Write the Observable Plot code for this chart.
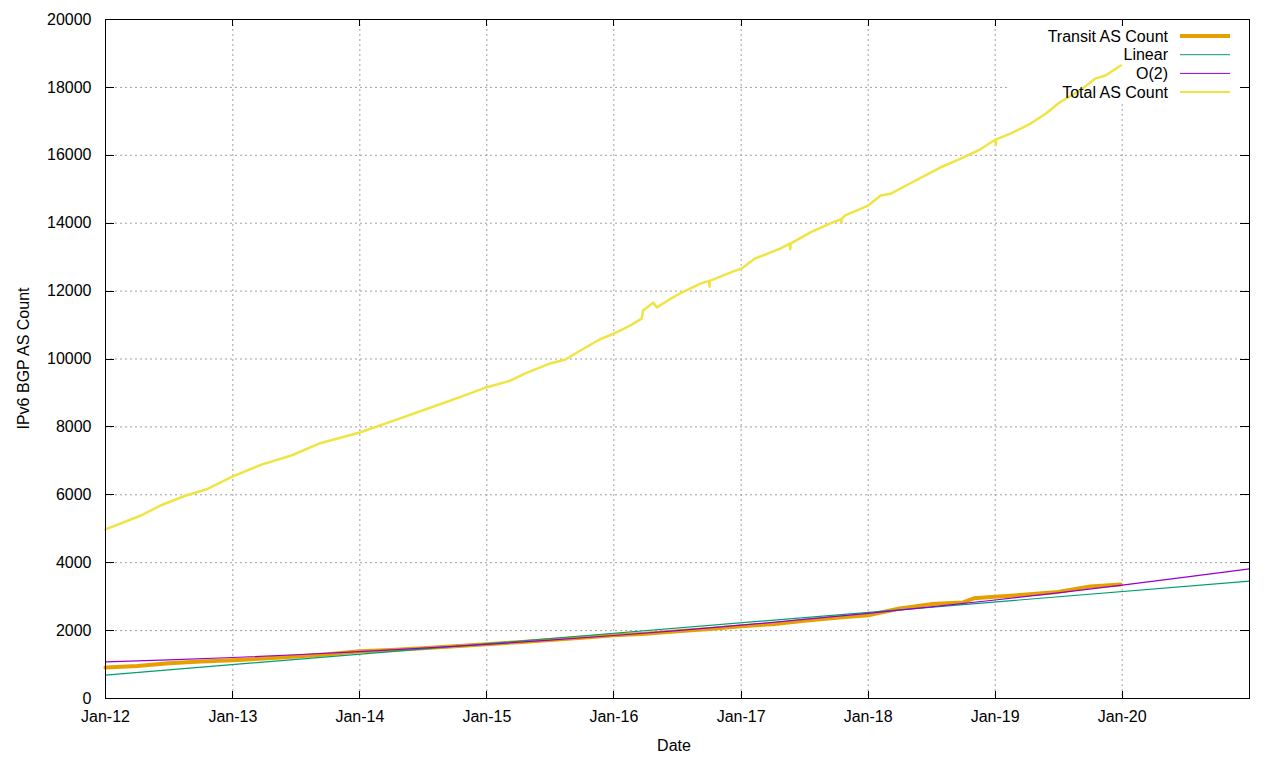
<!DOCTYPE html>
<html><head><meta charset="utf-8">
<script src="https://cdn.jsdelivr.net/npm/d3@7"></script>
<script src="https://cdn.jsdelivr.net/npm/@observablehq/plot@0.6"></script>
<style>
html,body{margin:0;padding:0;background:#fff;}
#chart svg{display:block;}
</style></head><body><div id="chart"></div>
<script>
// ---- data ----
const totalDates = ["2012-01-01","2012-04-12","2012-06-07","2012-08-19","2012-10-16","2013-01-01","2013-03-24","2013-06-18","2013-09-09","2014-01-01","2014-04-27","2014-07-24","2014-10-16","2015-01-01","2015-03-11","2015-04-20","2015-07-02","2015-08-15","2015-09-27","2015-11-21","2016-01-01","2016-02-18","2016-03-21","2016-03-25","2016-04-23","2016-05-04","2016-06-13","2016-07-09","2016-09-06","2016-10-01","2016-10-02","2016-10-03","2016-12-02","2017-01-01","2017-02-10","2017-04-23","2017-05-21","2017-05-22","2017-05-23","2017-07-19","2017-09-13","2017-10-15","2017-10-16","2017-10-17","2017-10-27","2018-01-01","2018-02-06","2018-03-07","2018-05-01","2018-07-27","2018-09-24","2018-11-18","2019-01-01","2019-01-03","2019-01-04","2019-02-14","2019-04-13","2019-05-27","2019-07-05","2019-09-02","2019-10-16","2019-11-14","2019-12-28"];
const totalValues = [4980,5390,5685,5980,6156,6540,6890,7158,7520,7835,8250,8570,8875,9170,9367,9570,9870,9985,10250,10575,10750,10990,11190,11430,11660,11520,11780,11930,12220,12300,12130,12300,12550,12660,12960,13250,13400,13230,13400,13730,13990,14120,14020,14120,14230,14520,14815,14870,15170,15640,15900,16170,16460,16300,16470,16640,16935,17230,17555,17910,18260,18350,18645];

const transitDates = ["2012-01-01","2012-04-01","2012-07-01","2012-10-01","2013-01-01","2013-04-01","2013-07-01","2013-10-01","2014-01-01","2014-04-01","2014-07-01","2014-10-01","2015-01-01","2015-04-01","2015-07-01","2015-10-01","2016-01-01","2016-04-01","2016-07-01","2016-10-01","2017-01-01","2017-04-01","2017-07-01","2017-10-01","2018-01-01","2018-04-01","2018-07-01","2018-10-01","2018-11-01","2019-01-01","2019-04-01","2019-07-01","2019-10-01","2019-12-28"];
const transitValues = [910,960,1040,1090,1130,1180,1240,1300,1390,1430,1480,1540,1600,1660,1720,1790,1860,1910,1980,2050,2130,2190,2290,2380,2450,2650,2780,2830,2950,3000,3060,3140,3300,3360];

const linearDates = ["2012-01-01","2021-01-01"];
const linearValues = [690,3460];

const quadDates = ["2012-01-01","2012-07-01","2013-01-01","2013-07-01","2014-01-01","2014-07-01","2015-01-01","2015-07-01","2016-01-01","2016-07-01","2017-01-01","2017-07-01","2018-01-01","2018-07-01","2019-01-01","2019-07-01","2020-01-01","2020-07-01","2021-01-01"];
const quadValues = [1080,1138,1207,1288,1379,1481,1595,1719,1855,2002,2160,2328,2508,2699,2901,3114,3339,3574,3820];

const xTickLabels = ["2012-01-01","2013-01-01","2014-01-01","2015-01-01","2016-01-01","2017-01-01","2018-01-01","2019-01-01","2020-01-01"];
const yTickValues = [0,2000,4000,6000,8000,10000,12000,14000,16000,18000,20000];

const seriesNames = ["Transit AS Count","Linear","O(2)","Total AS Count"];
const seriesColors = ["#e69f00","#009e73","#9400d3","#f0e442"];
const seriesWidths = [4,1.2,1.2,2.5];
const legendWidths = [4,1,1,2];

// ---- build ----
const toRows = (ds, vs) => ds.map((d,i) => ({date: new Date(d), value: vs[i]}));
const transit = toRows(transitDates, transitValues);
const linear = toRows(linearDates, linearValues);
const quad = toRows(quadDates, quadValues);
const total = toRows(totalDates, totalValues);
const xTicks = xTickLabels.map(d => new Date(d));
const FONT = "'Liberation Sans', Arial, sans-serif";

function box(dims){
  return {L: dims.marginLeft, R: dims.width - dims.marginRight, T: dims.marginTop, B: dims.height - dims.marginBottom};
}

function legendBackground(index, scales, values, dims){
  const {R, T} = box(dims);
  const g = d3.create("svg:g");
  g.append("rect").attr("x", R - 239).attr("y", T + 7).attr("width", 236).attr("height", 76).attr("fill", "#fff");
  return g.node();
}

function legendEntries(index, scales, values, dims){
  const {R, T} = box(dims);
  const g = d3.create("svg:g").attr("font-family", FONT).attr("font-size", 16);
  seriesNames.forEach((name, i) => {
    const cy = T + 17 + i * 18.7;
    g.append("text").attr("x", R - 81).attr("y", cy).attr("dy", "0.35em").attr("text-anchor", "end").attr("fill", "#000").text(name);
    g.append("line").attr("x1", R - 69).attr("x2", R - 19).attr("y1", cy).attr("y2", cy)
      .attr("stroke", seriesColors[i]).attr("stroke-width", legendWidths[i]);
  });
  return g.node();
}

function inwardTicks(index, scales, values, dims){
  const {L, R, T, B} = box(dims);
  const g = d3.create("svg:g").attr("stroke", "#000").attr("stroke-width", 1);
  for (const v of yTickValues){
    const py = Math.round(scales.y(v)) + 0.5;
    g.append("line").attr("x1", L).attr("x2", L + 9).attr("y1", py).attr("y2", py);
    g.append("line").attr("x1", R - 9).attr("x2", R).attr("y1", py).attr("y2", py);
  }
  for (const d of xTicks){
    const px = Math.round(scales.x(d)) + 0.5;
    g.append("line").attr("x1", px).attr("x2", px).attr("y1", B).attr("y2", B - 7);
    g.append("line").attr("x1", px).attr("x2", px).attr("y1", T).attr("y2", T + 7);
  }
  return g.node();
}

function axisTitles(index, scales, values, dims){
  const {L, R, T, B} = box(dims);
  const g = d3.create("svg:g").attr("font-family", FONT).attr("font-size", 16).attr("fill", "#000");
  g.append("text").attr("x", (L + R) / 2 - 3).attr("y", dims.height - 9).attr("text-anchor", "middle").text("Date");
  g.append("text").attr("transform", `translate(23,${(T + B) / 2}) rotate(-90)`).attr("dy", "0.35em").attr("text-anchor", "middle").text("IPv6 BGP AS Count");
  return g.node();
}

const grid = {stroke: "#a0a0a0", strokeOpacity: 1, strokeDasharray: "2,3", strokeWidth: 1};

const chart = Plot.plot({
  width: 1280,
  height: 760,
  marginLeft: 105,
  marginRight: 31,
  marginTop: 19,
  marginBottom: 62,
  style: {fontFamily: FONT, fontSize: "16px", background: "#fff", color: "#000"},
  x: {type: "utc", domain: [new Date("2012-01-01"), new Date("2021-01-01")]},
  y: {domain: [0, 20000]},
  marks: [
    Plot.gridY(yTickValues.slice(1, -1), grid),
    Plot.gridX(xTicks.slice(1), grid),
    legendBackground,
    Plot.axisX({ticks: xTicks, tickFormat: d3.utcFormat("%b-%y"), tickSize: 0, tickPadding: 12, label: null, fontSize: 16}),
    Plot.axisY({ticks: yTickValues, tickFormat: d => String(d), tickSize: 0, tickPadding: 14, label: null, fontSize: 16}),
    Plot.line(transit, {x: "date", y: "value", stroke: seriesColors[0], strokeWidth: seriesWidths[0]}),
    Plot.line(linear, {x: "date", y: "value", stroke: seriesColors[1], strokeWidth: seriesWidths[1]}),
    Plot.line(quad, {x: "date", y: "value", stroke: seriesColors[2], strokeWidth: seriesWidths[2]}),
    Plot.line(total, {x: "date", y: "value", stroke: seriesColors[3], strokeWidth: seriesWidths[3]}),
    legendEntries,
    Plot.frame({stroke: "#000", strokeWidth: 1}),
    inwardTicks,
    axisTitles
  ]
});
document.getElementById("chart").appendChild(chart);
</script></body></html>
